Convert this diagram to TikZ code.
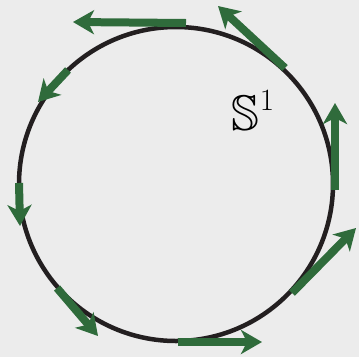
\documentclass[tikz,border=0pt]{standalone}
\usepackage{amssymb}
\usetikzlibrary{arrows.meta}
\definecolor{paper}{HTML}{ECECEC}
\definecolor{vecgreen}{HTML}{2F6B3B}
\definecolor{ink}{HTML}{231F20}
\tikzset{
  circ/.style={draw=ink, line width=4.5pt},
  tvec/.style={draw=vecgreen, line width=8pt, line cap=butt,
    -{Stealth[length=21pt,width=24pt,inset=6pt]}},
}
\begin{document}
\begin{tikzpicture}[x=1pt,y=-1pt]
\fill[paper] (0,0) rectangle (359,357);
\useasboundingbox (0,0) rectangle (359,357);
\coordinate (c) at (176,184);
\draw[circ] (c) circle[radius=157];
% tangent vectors
\coordinate (a1) at (186,23);  \coordinate (b1) at (73,22);
\coordinate (a2) at (285,68);  \coordinate (b2) at (218,6);
\coordinate (a3) at (335,190); \coordinate (b3) at (335,103);
\coordinate (a4) at (292,293); \coordinate (b4) at (356,228);
\coordinate (a5) at (178,342); \coordinate (b5) at (262,342);
\coordinate (a6) at (57,288);  \coordinate (b6) at (98,336);
\coordinate (a7) at (19,183);  \coordinate (b7) at (20,226);
\coordinate (a8) at (68,70);   \coordinate (b8) at (38,102);
\foreach \i in {1,...,8} \draw[tvec] (a\i) -- (b\i);
\node[inner sep=0pt, anchor=base west] (lbl) at (231,130)
  {\fontsize{50}{52}\selectfont$\mathbb{S}$\kern1pt\raisebox{20pt}{\fontsize{31}{32}\selectfont 1}};
\end{tikzpicture}
\end{document}
